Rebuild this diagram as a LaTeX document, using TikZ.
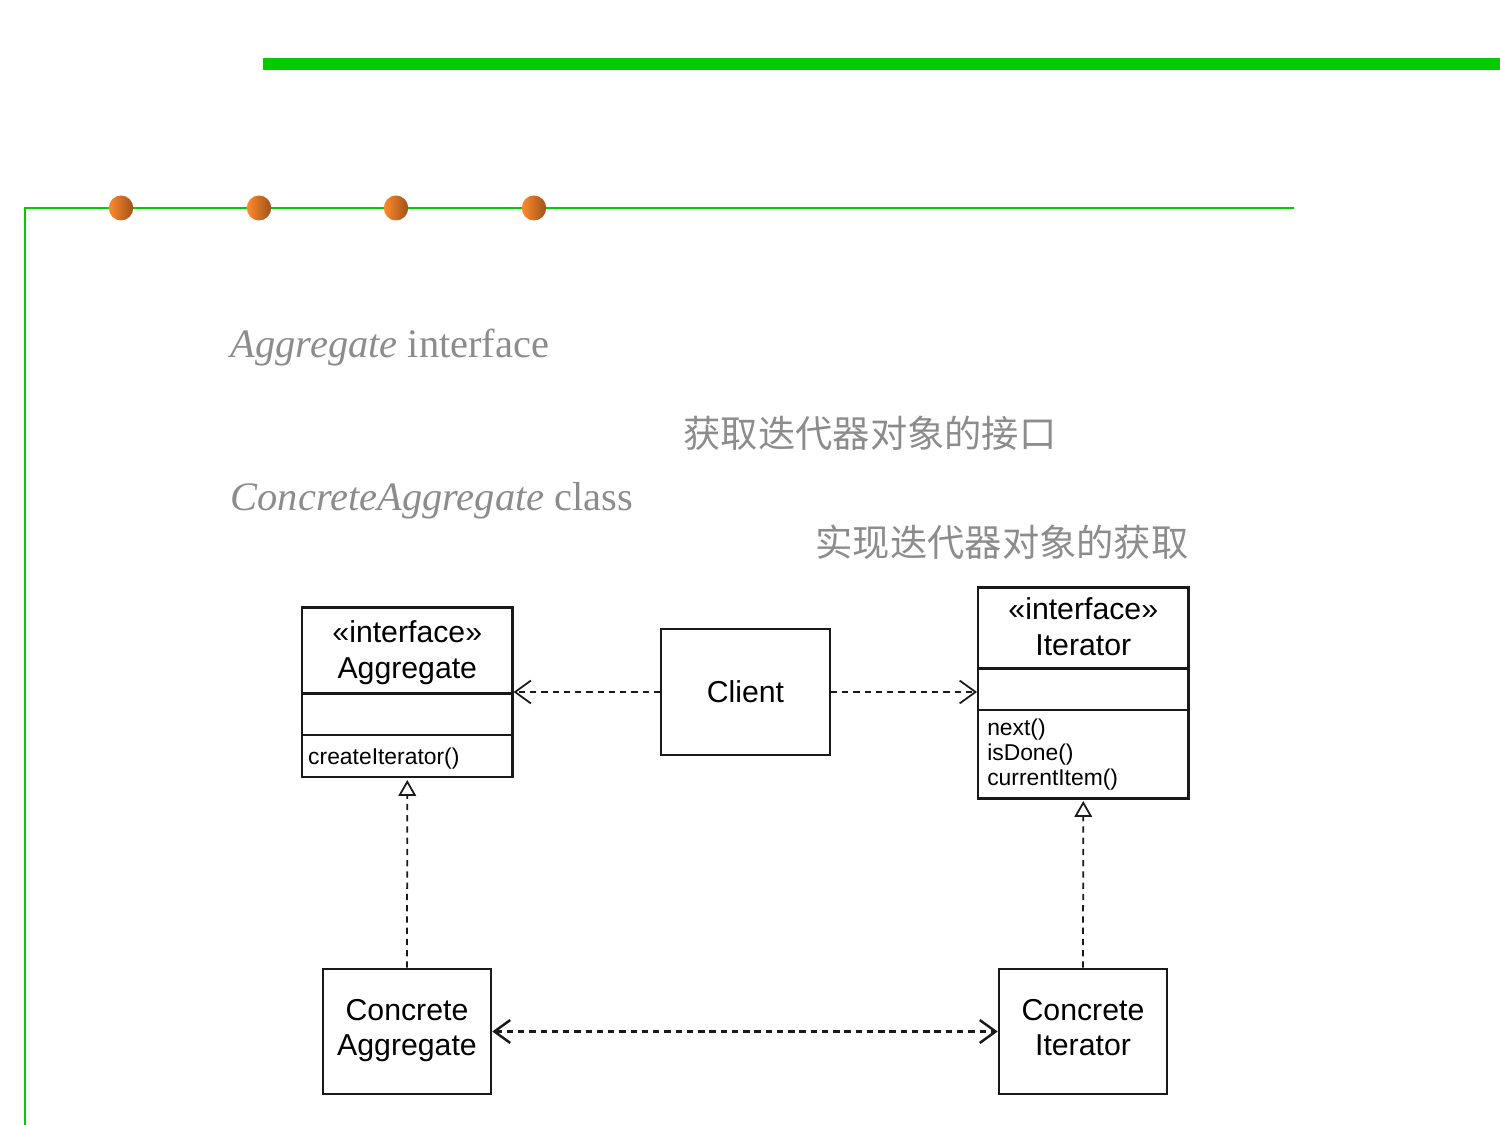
\documentclass[tikz,border=0pt]{standalone}
\usepackage{fontspec}
\setmainfont{Liberation Serif}
\newfontfamily\umlfont{Liberation Sans}
\newfontfamily\cjkfont{Noto Sans CJK SC}
\usetikzlibrary{arrows.meta}
\definecolor{barGreen}{RGB}{0,204,0}
\definecolor{ballLight}{RGB}{255,138,46}
\definecolor{ballDark}{RGB}{160,82,26}
\tikzset{
	classBox/.style={draw=black!90, line width=0.7pt, minimum width=2.1cm, inner sep=0pt, anchor=north west, align=center, font=\umlfont\fontsize{8.6}{10.2}\selectfont},
	methodBox/.style={classBox, text width=1.98cm, align=left, font=\umlfont\fontsize{6.5}{7.1}\selectfont},
	plainBox/.style={draw=black!90, line width=0.7pt, minimum width=1.68cm, minimum height=1.25cm, inner sep=0pt, align=center, font=\umlfont\fontsize{8.6}{10.2}\selectfont},
	noteText/.style={anchor=base west, inner sep=0pt, text=black!45, font=\fontsize{11.5}{13}\selectfont},
	cjkText/.style={anchor=west, inner sep=0pt, text=black!45, font=\cjkfont\fontsize{10.6}{12}\selectfont},
	dep/.style={dashed, dash pattern=on 1.8pt off 1.4pt, line width=0.5pt, black!90},
	openTip/.style={-{Straight Barb[length=4.5pt,width=6.5pt]}},
	realize/.style={dep, -{Triangle[open,fill=white,length=4.5pt,width=5pt]}, shorten >=0.015cm}
}

\begin{document}
\begin{tikzpicture}[x=0.01cm, y=-0.01cm]
		%%%%% START %%%%%
		\useasboundingbox (0, 0) rectangle (1500, 1125);
		
		\fill[barGreen] (263, 58) rectangle (1500, 70);
		\draw[barGreen, line width=0.6pt] (25, 1125) -- (25, 208) -- (1294, 208);
		
		\foreach \ballx in {121, 259, 396, 534}
			\shade[left color=ballLight, right color=ballDark] (\ballx, 208) ellipse [x radius=12.2, y radius=12.5];
		
		\node[noteText] (aggNote) at (230, 358) {\textit{Aggregate} interface};
		\node[noteText] (concNote) at (230, 511) {\textit{ConcreteAggregate} class};
		\node[cjkText] (aggCjk) at (683, 433) {获取迭代器对象的接口};
		\node[cjkText] (iterCjk) at (815, 542) {实现迭代器对象的获取};
		
		\node[classBox, minimum height=0.86cm, text depth=0.7pt] (aggTop) at (301, 606.5) {«interface»\\Aggregate};
		\node[classBox, minimum height=0.42cm] (aggMid) at (301, 692) {};
		\node[methodBox, minimum height=0.42cm, text height=5.9pt] (aggBot) at (301, 734) {createIterator()};
		
		\node[classBox, minimum height=0.81cm, text depth=1.2pt] (iterTop) at (977, 586.5) {«interface»\\Iterator};
		\node[classBox, minimum height=0.42cm] (iterMid) at (977, 667) {};
		\node[methodBox, text width=1.92cm, minimum height=0.88cm] (iterBot) at (977, 709) {next()\\isDone()\\currentItem()};
		
		\node[plainBox, line width=0.45pt, minimum width=1.69cm, minimum height=1.26cm] (client) at (745.5, 692) {Client};
		\node[plainBox, text depth=2.3pt] (concAgg) at (407, 1031.5) {Concrete\\Aggregate};
		\node[plainBox, text depth=2.3pt] (concIter) at (1083, 1031.5) {Concrete\\Iterator};
		
		\draw[dep, openTip] (client.west) -- (client.west -| aggTop.east);
		\draw[dep, openTip] (client.east) -- (client.east -| iterMid.west);
		\draw[dep, line width=0.7pt, {Straight Barb[length=4.5pt,width=6.5pt]}-{Straight Barb[length=4.5pt,width=6.5pt]}] (concAgg.east) -- (concIter.west);
		\draw[realize] (concAgg.north) -- (aggBot.south);
		\draw[realize] (concIter.north) -- (iterBot.south);
		
		%%%%% END %%%%%
	\end{tikzpicture}
\end{document}
